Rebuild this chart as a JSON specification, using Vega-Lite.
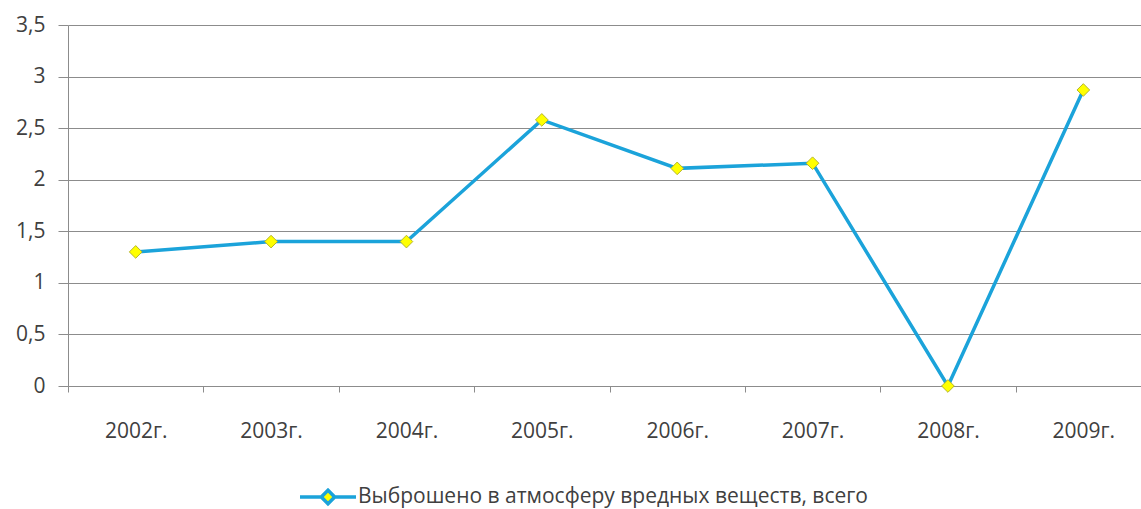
{
  "$schema": "https://vega.github.io/schema/vega-lite/v6.json",
  "autosize": {"type": "none"},
  "padding": {"left": 68, "top": 25, "right": 0, "bottom": 123},
  "width": 1073,
  "height": 361,
  "background": "white",
  "config": {
    "view": {"stroke": null},
    "font": "Open Sans",
    "axis": {"labelFont": "Open Sans", "labelFontSize": 21, "labelColor": "#404040", "domainColor": "#8c8c8c", "tickColor": "#8c8c8c", "gridColor": "#8c8c8c", "domainWidth": 1, "tickWidth": 1, "gridWidth": 1}
  },
  "data": {
    "values": [
      {"year": "2002г.", "value": 1.30},
      {"year": "2003г.", "value": 1.40},
      {"year": "2004г.", "value": 1.40},
      {"year": "2005г.", "value": 2.58},
      {"year": "2006г.", "value": 2.11},
      {"year": "2007г.", "value": 2.16},
      {"year": "2008г.", "value": 0},
      {"year": "2009г.", "value": 2.87}
    ]
  },
  "encoding": {
    "x": {
      "field": "year", "type": "nominal", "sort": null,
      "scale": {"range": [0, 1083], "paddingInner": 0, "paddingOuter": 0},
      "axis": {"title": null, "labelAngle": 0, "tickBand": "extent", "tickSize": 6, "labelPadding": 28, "grid": false}
    },
    "y": {
      "field": "value", "type": "quantitative",
      "scale": {"domain": [0, 3.5], "nice": false, "zero": true},
      "axis": {"title": null, "values": [0, 0.5, 1, 1.5, 2, 2.5, 3, 3.5], "grid": true, "tickSize": 10, "labelPadding": 13, "labelExpr": "replace(format(datum.value, '~g'), '.', ',')"}
    }
  },
  "layer": [
    {
      "mark": {"type": "line", "strokeWidth": 3.5},
      "encoding": {
        "color": {
          "datum": "Выброшено в атмосферу вредных веществ, всего",
          "scale": {"range": ["#1BA3DA"]},
          "legend": {
            "title": null,
            "orient": "none",
            "legendX": 230,
            "legendY": 442,
            "symbolType": "M-1,0L-0.24,0M0.24,0L1,0M-0.24,0L0,-0.24L0.24,0L0,0.24Z",
            "symbolSize": 3136,
            "symbolStrokeWidth": 3.5,
            "labelFont": "Open Sans",
            "labelFontSize": 21,
            "labelColor": "#404040",
            "labelOffset": 0,
            "labelLimit": 1000,
            "encode": {"symbols": {"update": {"fill": {"value": "#FFFF00"}, "stroke": {"value": "#1BA3DA"}}}}
          }
        }
      }
    },
    {
      "mark": {"type": "point", "shape": "diamond", "filled": true, "fill": "#FFFF00", "stroke": "#B5B52A", "strokeWidth": 1, "size": 160, "opacity": 1}
    }
  ]
}
